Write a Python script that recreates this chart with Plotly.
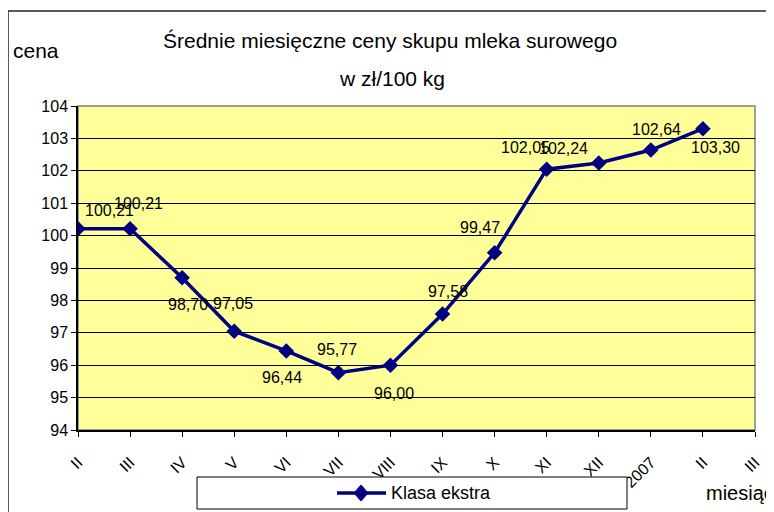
import plotly.graph_objects as go

# ---- data ----
month_labels = ["II", "III", "IV", "V", "VI", "VII", "VIII", "IX", "X", "XI", "XII", "I 2007", "II", "III"]
prices = [100.21, 100.21, 98.70, 97.05, 96.44, 95.77, 96.00, 97.58, 99.47, 102.05, 102.24, 102.64, 103.30]
series_name = "Klasa ekstra"
title_line1 = "Średnie miesięczne ceny skupu mleka surowego"
title_line2 = "w zł/100 kg"
y_title = "cena"
x_title = "miesiąc"
y_ticks = [94, 95, 96, 97, 98, 99, 100, 101, 102, 103, 104]

# ---- layout geometry (pixels) ----
# page has an 8px body margin, so the figure is 8px smaller than the window
OFF = 8
W, H = 774 - OFF, 512 - OFF
ML, MR, MT, MB = 78 - OFF, 19, 106 - OFF, 82
PW, PH = W - ML - MR, H - MT - MB

def pxx(p):  # screen pixel -> paper x
    return (p - OFF - ML) / PW

def pxy(p):  # screen pixel -> paper y
    return (H - MB - (p - OFF)) / PH

# label offsets (style): xshift, yshift in px for each data label
label_shift = [(31, 18), (8, 25), (6, -27), (-1, 28), (-4, -27), (-1, 23), (4, -28),
               (5, 23), (-15, 25), (-21, 22), (-35, 15), (6, 21), (13, -19)]

NAVY = "#000080"
NARROW = "Liberation Sans Narrow, Arial Narrow, Liberation Sans, Arial, sans-serif"
SANS = "Liberation Sans, Arial, sans-serif"

xs = list(range(len(prices)))

fig = go.Figure()
fig.add_trace(go.Scatter(
    x=xs, y=prices, mode="lines+markers", name=series_name,
    line=dict(color=NAVY, width=3.5),
    marker=dict(symbol="diamond", size=12, color=NAVY),
    hoverinfo="skip", showlegend=False,
))

annotations = []
for xi, v, (dx, dy) in zip(xs, prices, label_shift):
    annotations.append(dict(
        x=xi, y=v, xref="x", yref="y", text=f"{v:.2f}".replace(".", ","),
        showarrow=False, xshift=dx, yshift=dy,
        font=dict(family=NARROW, size=16, color="black"),
    ))

annotations += [
    dict(x=pxx(390), y=pxy(40), xref="paper", yref="paper", text=title_line1, showarrow=False,
         xanchor="center", yanchor="middle", font=dict(family=SANS, size=21, color="black")),
    dict(x=pxx(392), y=pxy(78), xref="paper", yref="paper", text=title_line2, showarrow=False,
         xanchor="center", yanchor="middle", font=dict(family=SANS, size=21, color="black")),
    dict(x=pxx(12), y=pxy(51), xref="paper", yref="paper", text=y_title, showarrow=False,
         xanchor="left", yanchor="middle", borderpad=0, font=dict(family=SANS, size=21, color="black")),
    dict(x=pxx(705), y=pxy(493), xref="paper", yref="paper", text=x_title, showarrow=False,
         xanchor="left", yanchor="middle", borderpad=0, font=dict(family=SANS, size=20, color="black")),
    # legend entry text
    dict(x=pxx(390), y=pxy(493), xref="paper", yref="paper", text=series_name, showarrow=False,
         xanchor="left", yanchor="middle", borderpad=0, font=dict(family=SANS, size=18, color="black")),
]

# legend sample geometry (screen pixels)
lx0, lx1, ly, lxc = 337, 386, 493, 361
dw, dh = 7, 8

shapes = [
    # plot area border (gray)
    dict(type="rect", xref="paper", yref="paper", x0=0, y0=0, x1=1, y1=1,
         line=dict(color="#808080", width=1.5), layer="below"),
    # outer chart border (top and left)
    dict(type="line", xref="paper", yref="paper", x0=pxx(8), y0=pxy(11), x1=pxx(800), y1=pxy(11),
         line=dict(color="#222222", width=1.5)),
    dict(type="line", xref="paper", yref="paper", x0=pxx(8), y0=pxy(11), x1=pxx(8), y1=pxy(540),
         line=dict(color="#222222", width=1.5)),
    # legend box
    dict(type="rect", xref="paper", yref="paper", x0=pxx(197), y0=pxy(509), x1=pxx(627), y1=pxy(477),
         fillcolor="white", line=dict(color="black", width=1), layer="above"),
    # legend sample line + diamond
    dict(type="line", xref="paper", yref="paper", x0=pxx(lx0), y0=pxy(ly), x1=pxx(lx1), y1=pxy(ly),
         line=dict(color=NAVY, width=3.5), layer="above"),
    dict(type="path", xref="paper", yref="paper",
         path=(f"M {pxx(lxc - dw)} {pxy(ly)} L {pxx(lxc)} {pxy(ly - dh)} "
               f"L {pxx(lxc + dw)} {pxy(ly)} L {pxx(lxc)} {pxy(ly + dh)} Z"),
         fillcolor=NAVY, line=dict(color=NAVY, width=1), layer="above"),
]

fig.update_layout(
    width=W, height=H,
    margin=dict(l=ML, r=MR, t=MT, b=MB),
    paper_bgcolor="white", plot_bgcolor="#FFFF99",
    showlegend=False,
    annotations=annotations, shapes=shapes,
    xaxis=dict(range=[0, len(month_labels) - 1], tickvals=list(range(len(month_labels))),
               ticktext=month_labels, tickangle=-45, showgrid=False, zeroline=False,
               showline=True, linecolor="black", linewidth=1.5,
               ticks="outside", ticklen=5, tickcolor="black", ticklabelstandoff=10,
               tickfont=dict(family=NARROW, size=16, color="black")),
    yaxis=dict(range=[94, 104], tickvals=y_ticks, showgrid=True, gridcolor="black", gridwidth=1,
               zeroline=False, showline=True, linecolor="black", linewidth=1.5,
               ticks="outside", ticklen=5, tickcolor="black",
               tickfont=dict(family=NARROW, size=16, color="black")),
)

fig.write_html("out.html")
